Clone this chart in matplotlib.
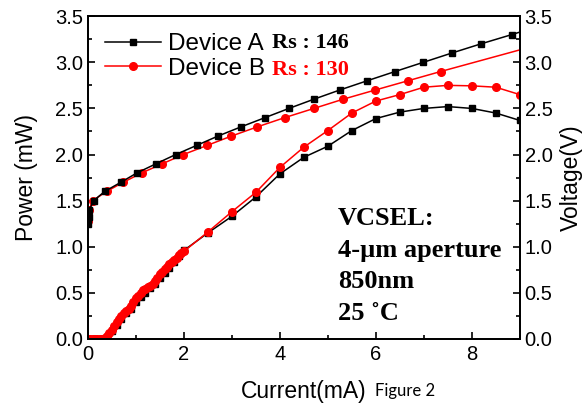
import matplotlib.pyplot as plt
from matplotlib.ticker import MultipleLocator
from matplotlib.lines import Line2D

# Power (mW) vs current (mA)
cur_pa = [0.0, 0.1, 0.2, 0.3, 0.4, 0.5, 0.6, 0.7, 0.8, 0.9, 1.0, 1.1, 1.2, 1.3, 1.4,
          1.5, 1.6, 1.7, 1.8, 1.9, 2.0, 2.5, 3.0, 3.5, 4.0, 4.5, 5.0, 5.5, 6.0, 6.5,
          7.0, 7.5, 8.0, 8.5, 9.0]
pow_a = [0.0, 0.0, 0.0, 0.0, 0.01, 0.09, 0.15, 0.22, 0.28, 0.33, 0.40, 0.46, 0.50, 0.55, 0.60,
         0.66, 0.72, 0.77, 0.83, 0.90, 0.96, 1.15, 1.33, 1.54, 1.79, 1.97, 2.09, 2.26, 2.39, 2.46,
         2.50, 2.52, 2.50, 2.45, 2.37]

cur_pb = [0.0, 0.05, 0.1, 0.15, 0.2, 0.25, 0.3, 0.35, 0.4, 0.45, 0.5, 0.55, 0.6, 0.65, 0.7,
          0.75, 0.8, 0.85, 0.9, 0.95, 1.0, 1.05, 1.1, 1.15, 1.2, 1.25, 1.3, 1.35, 1.4, 1.45,
          1.5, 1.55, 1.6, 1.65, 1.7, 1.75, 1.8, 1.85, 1.9, 1.95, 2.0, 2.5, 3.0, 3.5, 4.0,
          4.5, 5.0, 5.5, 6.0, 6.5, 7.0, 7.5, 8.0, 8.5, 9.0]
pow_b = [0.0, 0.0, 0.0, 0.0, 0.0, 0.0, 0.0, 0.01, 0.03, 0.06, 0.10, 0.14, 0.18, 0.22, 0.25,
         0.28, 0.30, 0.33, 0.36, 0.40, 0.44, 0.47, 0.50, 0.53, 0.54, 0.56, 0.57, 0.60, 0.63, 0.66,
         0.70, 0.73, 0.76, 0.78, 0.81, 0.83, 0.86, 0.88, 0.91, 0.93, 0.95, 1.16, 1.38, 1.59, 1.86,
         2.08, 2.26, 2.45, 2.58, 2.65, 2.73, 2.75, 2.745, 2.73, 2.65]

# Voltage (V) vs current (mA)
cur_va = [0.0, 0.02, 0.03, 0.12, 0.35, 0.69, 1.02, 1.42, 1.83, 2.27, 2.71, 3.19, 3.69, 4.19,
          4.71, 5.25, 5.82, 6.40, 6.99, 7.58, 8.19, 8.83, 9.45]
volt_a = [1.25, 1.32, 1.40, 1.50, 1.60, 1.70, 1.80, 1.90, 2.0, 2.1, 2.2, 2.3, 2.4, 2.5,
          2.6, 2.7, 2.8, 2.9, 3.0, 3.1, 3.2, 3.3, 3.4]

cur_vb = [0.0, 0.03, 0.1, 0.39, 0.74, 1.12, 1.55, 1.99, 2.49, 2.99, 3.53, 4.10, 4.71, 5.32,
          5.99, 6.67, 7.35, 9.6]
volt_b = [1.28, 1.40, 1.50, 1.60, 1.70, 1.80, 1.90, 2.0, 2.1, 2.2, 2.3, 2.4, 2.5, 2.6,
          2.7, 2.8, 2.9, 3.22]

labels = ['Device A', 'Device B']
rs_labels = ['Rs : 146', 'Rs : 130']
note_lines = ['VCSEL:', '4-\u00b5m aperture', '850nm', '25 \u02daC']

sans = 'Liberation Sans'
serif = 'Liberation Serif'

fig = plt.figure(figsize=(5.86, 4.05), dpi=100)
ax = fig.add_axes([0.150, 0.163, 0.737, 0.797])
ax2 = ax.twinx()

lw, ms = 1.1, 5
ax.plot(cur_pa, pow_a, '-s', color='black', lw=lw, ms=ms)
ax.plot(cur_pb, pow_b, '-o', color='red', lw=lw, ms=ms + 0.5)
ax2.plot(cur_vb, volt_b, '-o', color='red', lw=lw, ms=ms + 0.5)
ax2.plot(cur_va, volt_a, '-s', color='black', lw=lw, ms=ms)

for a in (ax, ax2):
    a.set_xlim(0, 9)
    a.set_ylim(0, 3.5)
    a.yaxis.set_major_locator(MultipleLocator(0.5))
    a.yaxis.set_minor_locator(MultipleLocator(0.25))
    a.tick_params(which='both', direction='in', labelsize=14.5, width=1.2)
    a.tick_params(which='major', length=5)
    a.tick_params(which='minor', length=3)
    for s in a.spines.values():
        s.set_linewidth(1.3)
    for t in a.get_xticklabels() + a.get_yticklabels():
        t.set_fontfamily(sans)
ax.xaxis.set_major_locator(MultipleLocator(2))
ax.xaxis.set_minor_locator(MultipleLocator(1))
ax.tick_params(axis='x', pad=4)

ax.set_xlabel('Current(mA)', fontsize=16.5, family=sans, labelpad=12)
ax.set_ylabel('Power (mW)', fontsize=16.5, family=sans, labelpad=12)
ax2.set_ylabel('Voltage(V)', fontsize=16.5, family=sans, labelpad=5)

handles = [Line2D([], [], color='black', marker='s', lw=lw, ms=ms),
           Line2D([], [], color='red', marker='o', lw=lw, ms=ms + 0.5)]
ax2.legend(handles, labels, loc='upper left', frameon=False,
           prop={'family': sans, 'size': 17.5}, handlelength=2.3, handletextpad=0.3,
           labelspacing=0.1, borderaxespad=0.3, bbox_to_anchor=(0.0, 1.0))

fig.text(272 / 586, 1 - 48 / 405, rs_labels[0], color='black', fontsize=16,
         family=serif, weight='bold', va='baseline')
fig.text(272 / 586, 1 - 75 / 405, rs_labels[1], color='red', fontsize=16,
         family=serif, weight='bold', va='baseline')

for i, line in enumerate(note_lines):
    fig.text(338 / 586, 1 - (225 + i * 31.5) / 405, line, fontsize=19,
             family=serif, weight='bold', va='baseline')

fig.text(375 / 586, 1 - 396 / 405, 'Figure 2', fontsize=12, family='Lato', va='baseline')

fig.savefig('out.png', dpi=100)
